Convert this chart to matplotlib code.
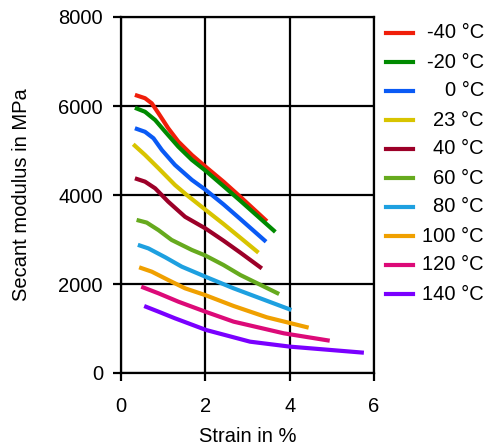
import matplotlib.pyplot as plt
from matplotlib.lines import Line2D

plt.rcParams['font.family'] = ['Liberation Sans', 'DejaVu Sans']

labels = ['-40 °C', '-20 °C', '0 °C', '23 °C', '40 °C',
          '60 °C', '80 °C', '100 °C', '120 °C', '140 °C']
colors = ['#f01e0a', '#008a00', '#0a5af5', '#d8c400', '#9c0028',
          '#66aa1e', '#1ea0e0', '#f0a000', '#dc0a78', '#7a00ff']

# strain (%) and secant modulus (MPa)
strain = [
    [0.33, 0.57, 0.73, 0.89, 1.12, 1.36, 1.68, 2.00, 2.43, 2.83, 3.46],
    [0.33, 0.57, 0.81, 1.05, 1.36, 1.68, 2.00, 2.43, 2.83, 3.66],
    [0.33, 0.57, 0.77, 0.97, 1.28, 1.68, 2.00, 2.43, 2.83, 3.44],
    [0.29, 0.57, 0.89, 1.28, 1.56, 2.00, 2.43, 2.83, 3.26],
    [0.33, 0.57, 0.81, 1.12, 1.52, 2.00, 2.43, 2.83, 3.34],
    [0.37, 0.61, 0.89, 1.20, 1.68, 2.00, 2.43, 2.83, 3.75],
    [0.40, 0.65, 1.05, 1.44, 2.00, 2.67, 4.04],
    [0.43, 0.73, 1.12, 1.52, 2.00, 2.67, 3.46, 4.45],
    [0.48, 0.89, 1.36, 2.00, 2.67, 3.86, 4.95],
    [0.55, 0.89, 1.28, 2.02, 3.06, 4.01, 5.76],
]
modulus = [
    [6250, 6175, 6060, 5835, 5500, 5200, 4900, 4640, 4300, 3960, 3410],
    [5960, 5870, 5685, 5420, 5085, 4790, 4550, 4200, 3870, 3170],
    [5500, 5420, 5275, 5010, 4675, 4340, 4120, 3790, 3460, 2950],
    [5140, 4900, 4600, 4225, 4000, 3670, 3350, 3040, 2704],
    [4375, 4300, 4150, 3850, 3510, 3250, 2975, 2705, 2350],
    [3440, 3380, 3210, 2990, 2765, 2640, 2427, 2202, 1775],
    [2880, 2800, 2600, 2390, 2165, 1903, 1416],
    [2375, 2277, 2090, 1903, 1750, 1506, 1251, 1019],
    [1940, 1790, 1603, 1378, 1154, 892, 726],
    [1505, 1378, 1229, 966, 704, 592, 456],
]

fig = plt.figure(figsize=(4.86, 4.47), dpi=100)
ax = fig.add_axes([121/486, 1 - 373/447, 253/486, 356/447])

for x, y, c in zip(strain, modulus, colors):
    ax.plot(x, y, color=c, lw=3, solid_capstyle='butt', solid_joinstyle='round')

ax.set_xlim(0, 6)
ax.set_ylim(0, 8000)
ax.set_xticks([0, 2, 4, 6])
ax.set_yticks([0, 2000, 4000, 6000, 8000])
ax.grid(True, color='black', lw=1.6)
for s in ax.spines.values():
    s.set_linewidth(1.6)
ax.tick_params(direction='out', length=6, width=1.6, labelsize=14.5)
ax.tick_params(axis='x', pad=11)
ax.tick_params(axis='y', pad=7)
ax.set_xlabel('Strain in %', fontsize=14.5, labelpad=8)
ax.set_ylabel('Secant modulus in MPa', fontsize=14.5, labelpad=20)

# legend drawn by hand so the labels are right aligned
for i, (lab, c) in enumerate(zip(labels, colors)):
    yy = 1 - (33 + 29 * i) / 447
    fig.add_artist(Line2D([386/486, 413/486], [yy, yy], color=c, lw=3))
    fig.text(484/486, yy, lab, ha='right', va='center', fontsize=14.5)

plt.savefig('out.png', dpi=100)
